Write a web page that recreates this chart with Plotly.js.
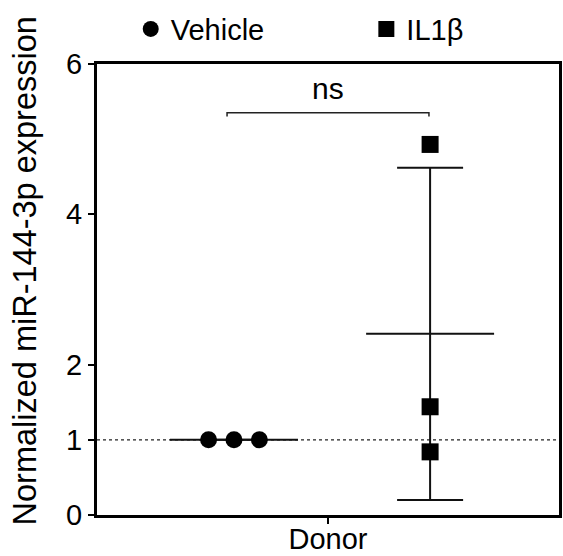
<!DOCTYPE html>
<html>
<head>
<meta charset="utf-8">
<script src="https://cdn.plot.ly/plotly-3.0.1.min.js"></script>
<style>html,body{margin:0;padding:0;background:#fff;}#chart{width:563px;height:556px;}</style>
</head>
<body>
<div id="chart"></div>
<script>
// ---- data ----
const groups = ["Vehicle", "IL1β"];
const vehicleValues = [1.0, 1.0, 1.0];
const il1bValues = [4.93, 1.44, 0.84];
const groupMeans = [1.0, 2.41];
const groupSD = [0.0, 2.21];
const categoryLabels = ["Donor"];
const yTicks = [0, 1, 2, 4, 6];
const sigLabel = "ns";
const yTitle = "Normalized miR-144-3p expression";

// ---- layout constants (positions, not data) ----
const vehCenter = -0.407, ilCenter = 0.442, jitter = 0.11, halfW = 0.277;
const FONT = "Liberation Sans, Arial, Helvetica, sans-serif";
const black = "#000";

const vehX = vehicleValues.map((v, i) => vehCenter + (i - 1) * jitter);
const ilX = il1bValues.map(() => ilCenter);

const traces = [
  {x: [vehCenter - halfW, vehCenter + halfW], y: [groupMeans[0], groupMeans[0]], mode: "lines",
   line: {color: "#111", width: 2}, showlegend: false, hoverinfo: "skip"},
  {x: [ilCenter - halfW, ilCenter + halfW], y: [groupMeans[1], groupMeans[1]], mode: "lines",
   line: {color: "#111", width: 2}, showlegend: false, hoverinfo: "skip"},
  {x: [vehCenter, ilCenter], y: groupMeans, mode: "markers", marker: {size: 1, opacity: 0},
   error_y: {type: "data", array: groupSD, visible: true, color: "#111", thickness: 2, width: 33},
   showlegend: false, hoverinfo: "skip"},
  {x: vehX, y: vehicleValues, mode: "markers", name: groups[0], legend: "legend",
   marker: {symbol: "circle", size: 17, color: black}},
  {x: ilX, y: il1bValues, mode: "markers", name: groups[1], legend: "legend2",
   marker: {symbol: "square", size: 17, color: black}}
];

const legFont = {family: FONT, size: 29, color: black};
const layout = {
  width: 563, height: 556,
  margin: {l: 97, r: 4, t: 61, b: 41},
  paper_bgcolor: "#fff", plot_bgcolor: "#fff",
  font: {family: FONT, size: 29, color: black},
  showlegend: true,
  legend: {orientation: "h", x: 0.073, xanchor: "left", y: 1.134, yanchor: "top",
           font: legFont, bgcolor: "rgba(0,0,0,0)"},
  legend2: {orientation: "h", x: 0.583, xanchor: "left", y: 1.134, yanchor: "top",
           font: legFont, bgcolor: "rgba(0,0,0,0)"},
  xaxis: {range: [-1, 1], tickmode: "array", tickvals: [0], ticktext: categoryLabels,
          showline: true, linewidth: 3, linecolor: black, mirror: true,
          ticks: "outside", ticklen: 6, tickwidth: 2, tickcolor: black,
          showgrid: false, zeroline: false, fixedrange: true, automargin: false,
          ticklabelstandoff: -10,
          tickfont: {family: FONT, size: 29, color: black}},
  yaxis: {range: [0, 6], tickmode: "array", tickvals: yTicks, ticktext: yTicks.map(String),
          showline: true, linewidth: 3, linecolor: black, mirror: true,
          ticks: "outside", ticklen: 6, tickwidth: 2, tickcolor: black,
          showgrid: false, zeroline: false, fixedrange: true, automargin: false,
          tickfont: {family: FONT, size: 29, color: black}},
  shapes: [
    {type: "line", xref: "paper", yref: "y", x0: 0, x1: 1, y0: 1, y1: 1,
     line: {color: "#222", width: 1.2, dash: "dot"}, layer: "below"},
    {type: "path", xref: "x", yref: "y",
     path: "M -0.437 5.30 L -0.437 5.35 L 0.437 5.35 L 0.437 5.30",
     line: {color: "#222", width: 1.5}}
  ],
  annotations: [
    {x: 0, y: 5.35, xref: "x", yref: "y", text: sigLabel, showarrow: false, yanchor: "bottom", yshift: 6,
     font: {family: FONT, size: 30, color: black}},
    {x: -0.156, y: 0.542, xref: "paper", yref: "paper", text: yTitle, showarrow: false,
     textangle: -90, xanchor: "center", yanchor: "middle",
     font: {family: FONT, size: 32.5, color: black}}
  ]
};

Plotly.newPlot("chart", traces, layout, {staticPlot: true, displayModeBar: false});
</script>
</body>
</html>
